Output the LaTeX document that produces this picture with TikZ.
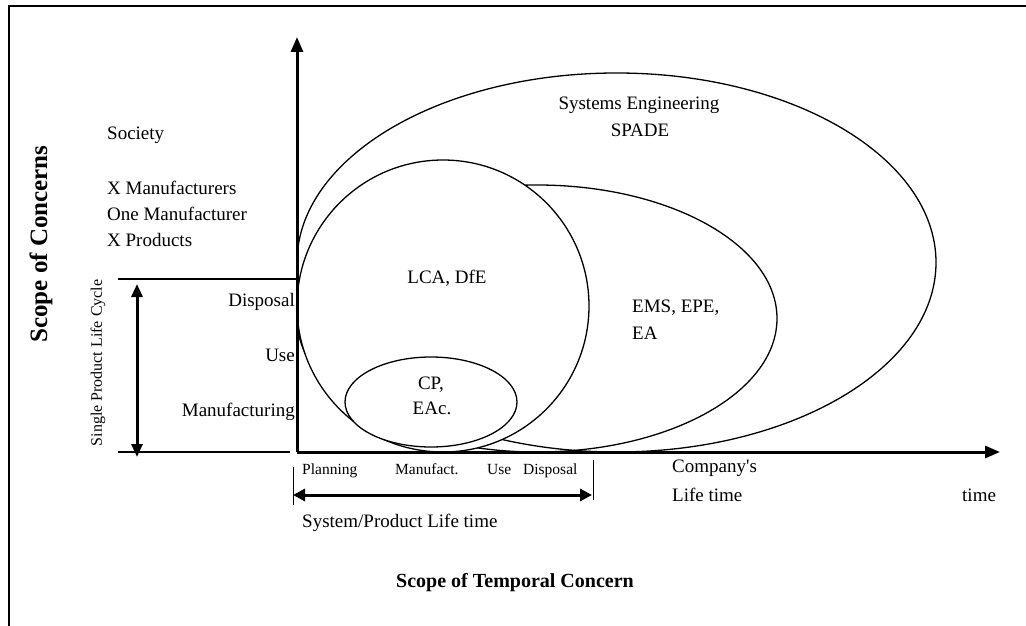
\documentclass[tikz,border=0pt]{standalone}
\usepackage{fontspec}
\setmainfont{Liberation Serif}
\usetikzlibrary{arrows.meta}
\begin{document}
\begin{tikzpicture}[x=1pt,y=-1pt,
  lbl/.style={font=\fontsize{19}{22}\selectfont, inner sep=0pt, text height=13pt, text depth=4pt},
  smalllbl/.style={font=\fontsize{15.5}{18}\selectfont, inner sep=0pt, text height=11pt, text depth=3pt},
  heading/.style={font=\bfseries\fontsize{20}{24}\selectfont, inner sep=0pt},
  curve/.style={line width=1.3pt},
  thin/.style={line width=1.3pt},
  axisline/.style={line width=3pt, -{Triangle[length=15pt,width=12pt]}},
  span/.style={line width=3pt, {Triangle[length=12pt,width=12pt]}-{Triangle[length=12pt,width=12pt]}}]
\useasboundingbox (0,0) rectangle (1026,626);

% frame (top and left edges)
\draw[line width=2pt] (9,626) -- (9,6) -- (1026,6);

% scopes as nested ellipses
\draw[curve] (616.5,262.5) ellipse [x radius=319.5, y radius=189.5];
\draw[curve] (537,318.5) ellipse [x radius=240, y radius=133.5];
\draw[curve, fill=white] (443,306) circle [radius=146];
\draw[curve, fill=white] (431,402) ellipse [x radius=86, y radius=45];

% labels inside the scopes
\node[lbl] (se) at (639,105) {Systems Engineering};
\node[lbl] (spade) at (640,132) {SPADE};
\node[lbl] (lca) at (447,279) {LCA, DfE};
\node[lbl, anchor=west] (ems) at (632,308) {EMS, EPE,};
\node[lbl, anchor=west] (ea) at (632,335) {EA};
\node[lbl] (cp) at (431,385) {CP,};
\node[lbl] (eac) at (432,410) {EAc.};

% axes
\coordinate (o) at (297,452);
\coordinate (ytip) at (297,37);
\coordinate (xtip) at (1000,452);
\draw[axisline] (o) -- (ytip);
\draw[axisline] (o) -- (xtip);

% vertical scale labels
\node[lbl, anchor=west] (soc) at (107,135) {Society};
\node[lbl, anchor=west] (xman) at (107,190) {X Manufacturers};
\node[lbl, anchor=west] (oneman) at (107,216) {One Manufacturer};
\node[lbl, anchor=west] (xprod) at (107,242) {X Products};
\node[lbl, anchor=east] (disp) at (295,302) {Disposal};
\node[lbl, anchor=east] (use) at (295,357) {Use};
\node[lbl, anchor=east] (manuf) at (295,412) {Manufacturing};

% single product life cycle bracket
\coordinate (lctopL) at (118,279);
\coordinate (lctopR) at (297,279);
\coordinate (lcbotL) at (118,452);
\coordinate (lcbotR) at (290,452);
\draw[thin] (lctopL) -- (lctopR);
\draw[thin] (lcbotL) -- (lcbotR);
\coordinate (lcA) at (137,284);
\coordinate (lcB) at (137,457);
\draw[span, {Triangle[length=13pt,width=11pt]}-{Triangle[length=13pt,width=11pt]}] (lcA) -- (lcB);
\node[font=\fontsize{16}{19}\selectfont, rotate=90, inner sep=0pt] (splc) at (98,363) {Single Product Life Cycle};
\node[font=\bfseries\fontsize{25}{29}\selectfont, rotate=90, inner sep=0pt] (soconc) at (41,244) {Scope of Concerns};

% horizontal scale labels
\node[smalllbl, anchor=west] (plan) at (302,470) {Planning};
\node[smalllbl, anchor=west] (mfct) at (395,470) {Manufact.};
\node[smalllbl, anchor=west] (huse) at (487,470) {Use};
\node[smalllbl, anchor=west] (hdisp) at (523,470) {Disposal};

% system / product life time bracket
\coordinate (tkLa) at (293,467);
\coordinate (tkLb) at (293,505);
\coordinate (tkRa) at (593,460);
\coordinate (tkRb) at (593,500);
\draw[line width=1pt] (tkLa) -- (tkLb);
\draw[line width=1pt] (tkRa) -- (tkRb);
\coordinate (spL) at (293,495);
\coordinate (spR) at (592,495);
\draw[span] (spL) -- (spR);
\node[lbl, anchor=west] (splt) at (302,523) {System/Product Life time};

\node[lbl, anchor=west] (comp) at (672,468) {Company\textquotesingle s};
\node[lbl, anchor=west] (clt) at (672,497) {Life time};
\node[lbl, anchor=west] (time) at (962,497) {time};

\node[heading] (sotc) at (515,583) {Scope of Temporal Concern};
\end{tikzpicture}
\end{document}
